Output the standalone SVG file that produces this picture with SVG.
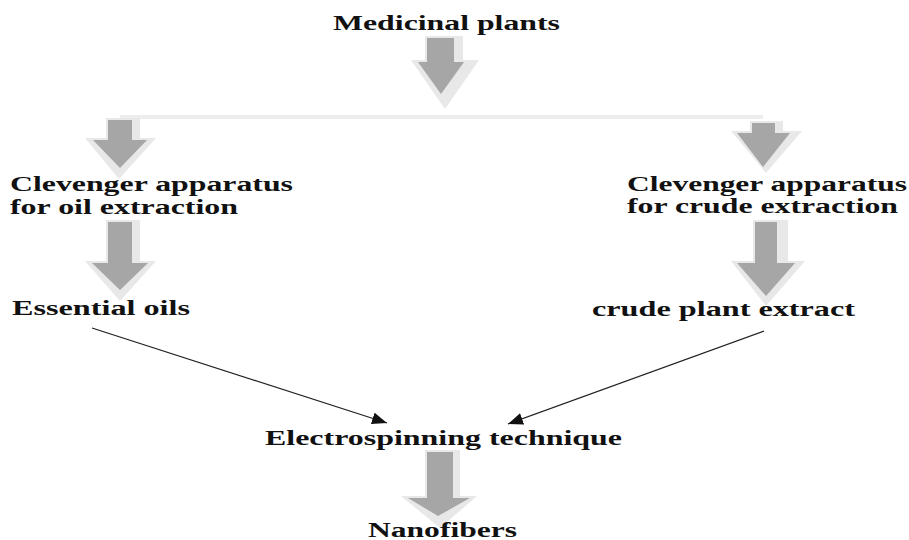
<svg xmlns="http://www.w3.org/2000/svg" width="909" height="540" viewBox="0 0 909 540">
<style>
.t{font-family:"Liberation Serif","Times New Roman",serif;font-weight:bold;font-size:20px;fill:#111}
.aL{fill:#e8e8e8}
.aD{fill:#a6a6a6}
.ln{stroke:#222;stroke-width:1.3;fill:none}
</style>
<defs>
<marker id="ah" markerUnits="userSpaceOnUse" markerWidth="16" markerHeight="12" refX="15" refY="6" orient="auto">
<path d="M0,0 L15,6 L0,12 Z" fill="#111"/>
</marker>
</defs>
<rect width="909" height="540" fill="#fff"/>
<g id="connectors">
<rect x="120" y="115" width="643" height="4" fill="#ededed"/>
<g id="arrow-top"><path class="aL" d="M425,36 H463 V60 H479 L445,109 L411,60 H425 Z"/><path class="aD" d="M427,38 H454 V62 H464 L441,94 L418,62 H427 Z"/></g>
<g id="arrow-l1"><path class="aL" d="M106,118 H140 V138 H156 L119,179 L85,138 H106 Z"/><path class="aD" d="M108,120 H132 V140 H147 L120,168 L93,140 H108 Z"/></g>
<g id="arrow-l2"><path class="aL" d="M106,220 H140 V261 H156 L120,301 L85,261 H106 Z"/><path class="aD" d="M108,222 H132 V263 H148 L120,290 L92,263 H108 Z"/></g>
<g id="arrow-r1"><path class="aL" d="M750,121 H783 V131 H802 L766,173 L731,131 H750 Z"/><path class="aD" d="M752,123 H775 V133 H790 L763,167 L737,133 H752 Z"/></g>
<g id="arrow-r2"><path class="aL" d="M753,220 H788 V261 H805 L766,306 L731,261 H753 Z"/><path class="aD" d="M755,222 H777 V263 H795 L766,296 L737,263 H755 Z"/></g>
<g id="arrow-bottom"><path class="aL" d="M425,450 H460 V496 H477 L440,528 L401,496 H425 Z"/><path class="aD" d="M427,452 H453 V498 H470 L438,516 L408,498 H427 Z"/></g>
<line class="ln" x1="92" y1="328" x2="387" y2="423" marker-end="url(#ah)"/>
<line class="ln" x1="764" y1="331" x2="508" y2="424" marker-end="url(#ah)"/>
</g>
<g id="medicinal-plants"><text class="t" x="333" y="30" textLength="227" lengthAdjust="spacingAndGlyphs">Medicinal plants</text></g>
<g id="clevenger-oil"><text class="t" x="10" y="191" textLength="283" lengthAdjust="spacingAndGlyphs">Clevenger apparatus</text><text class="t" x="10" y="214" textLength="228" lengthAdjust="spacingAndGlyphs">for oil extraction</text></g>
<g id="clevenger-crude"><text class="t" x="627" y="191" textLength="280" lengthAdjust="spacingAndGlyphs">Clevenger apparatus</text><text class="t" x="627" y="213" textLength="271" lengthAdjust="spacingAndGlyphs">for crude  extraction</text></g>
<g id="essential-oils"><text class="t" x="12" y="315" textLength="178" lengthAdjust="spacingAndGlyphs">Essential oils</text></g>
<g id="crude-extract"><text class="t" x="592" y="316" textLength="263" lengthAdjust="spacingAndGlyphs">crude  plant  extract</text></g>
<g id="electrospinning"><text class="t" x="265" y="445" textLength="357" lengthAdjust="spacingAndGlyphs">Electrospinning  technique</text></g>
<g id="nanofibers"><text class="t" x="368" y="537" textLength="149" lengthAdjust="spacingAndGlyphs">Nanofibers</text></g>
</svg>
